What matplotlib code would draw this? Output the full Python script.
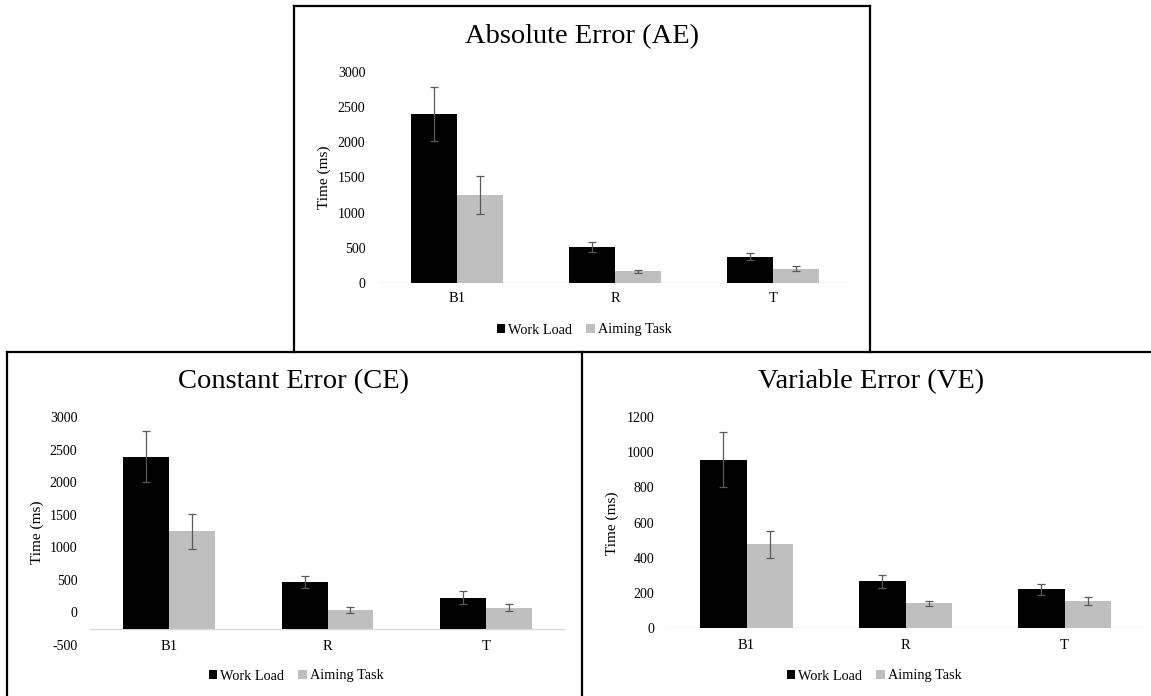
import matplotlib
matplotlib.use("Agg")
import matplotlib.pyplot as plt
from matplotlib.lines import Line2D
from matplotlib.patches import Patch
import numpy as np

plt.rcParams['font.family'] = ['Liberation Serif', 'DejaVu Serif']

categories = ['B1', 'R', 'T']
series_names = ['Work Load', 'Aiming Task']

ae_work = [2400, 515, 375]
ae_work_err = [385, 70, 55]
ae_aim = [1250, 165, 200]
ae_aim_err = [275, 25, 35]

ce_work = [2390, 468, 228]
ce_work_err = [390, 90, 95]
ce_aim = [1245, 40, 75]
ce_aim_err = [267, 48, 58]

ve_work = [958, 265, 220]
ve_work_err = [158, 37, 30]
ve_aim = [476, 140, 153]
ve_aim_err = [78, 14, 21]

W, H = 1151, 696
fig = plt.figure(figsize=(W / 100, H / 100), dpi=100)

BLACK = '#000000'
GRAY = '#BFBFBF'
ERR = '#595959'
AXIS = '#D9D9D9'


def fx(px):
    return px / W


def fy(py):
    return 1 - py / H


def panel(x0, x1, y_top, y_bot, ylim, yticks, base, work, werr, aim, aerr,
          title, title_xy, ylabel_xy, xpad, legend_xy):
    ax = fig.add_axes([fx(x0), fy(y_bot), fx(x1) - fx(x0), fy(y_top) - fy(y_bot)])
    x = np.arange(len(categories))
    bw = 0.29
    ax.bar(x - bw / 2, np.array(work) - base, bw, bottom=base, color=BLACK, zorder=2)
    ax.bar(x + bw / 2, np.array(aim) - base, bw, bottom=base, color=GRAY, zorder=2)
    ax.errorbar(x - bw / 2, work, yerr=werr, fmt='none', ecolor=ERR,
                elinewidth=0.9, capsize=3, capthick=0.9, zorder=3)
    ax.errorbar(x + bw / 2, aim, yerr=aerr, fmt='none', ecolor=ERR,
                elinewidth=0.9, capsize=3, capthick=0.9, zorder=3)
    ax.axhline(base, color=AXIS, lw=1.0, zorder=1)
    ax.set_xlim(-0.5, 2.5)
    ax.set_ylim(*ylim)
    ax.set_yticks(yticks)
    ax.set_yticklabels([str(v) for v in yticks])
    ax.set_xticks(x)
    ax.set_xticklabels(categories)
    for s in ax.spines.values():
        s.set_visible(False)
    ax.tick_params(axis='y', length=0, pad=9, labelsize=10)
    ax.tick_params(axis='x', length=0, pad=xpad, labelsize=10.5)
    ax.patch.set_alpha(0)
    fig.text(fx(title_xy[0]), fy(title_xy[1]), title, ha='center', va='center',
             fontsize=20.5)
    fig.text(fx(ylabel_xy[0]), fy(ylabel_xy[1]), 'Time (ms)', ha='center',
             va='center', rotation=90, fontsize=11)
    handles = [Patch(facecolor=BLACK, edgecolor='none'),
               Patch(facecolor=GRAY, edgecolor='none')]
    fig.legend(handles, series_names, loc='center',
               bbox_to_anchor=(fx(legend_xy[0]), fy(legend_xy[1])),
               ncol=2, frameon=False, fontsize=10.3, handlelength=0.6,
               handleheight=0.6, handletextpad=0.2, columnspacing=1.0,
               borderpad=0, borderaxespad=0)
    return ax


panel(378, 852, 72, 283, (0, 3000), [0, 500, 1000, 1500, 2000, 2500, 3000], 0,
      ae_work, ae_work_err, ae_aim, ae_aim_err,
      'Absolute Error (AE)', (582, 37), (324, 177), 6.5, (584, 330))

panel(90, 565, 417, 645, (-500, 3000),
      [-500, 0, 500, 1000, 1500, 2000, 2500, 3000], -250,
      ce_work, ce_work_err, ce_aim, ce_aim_err,
      'Constant Error (CE)', (294, 382), (37, 532), -3.6, (296, 676))

panel(667, 1144, 417, 628, (0, 1200), [0, 200, 400, 600, 800, 1000, 1200], 0,
      ve_work, ve_work_err, ve_aim, ve_aim_err,
      'Variable Error (VE)', (871, 382), (612, 523), 8, (874, 676))


def seg(xa, ya, xb, yb, lw=1.6):
    fig.add_artist(Line2D([fx(xa), fx(xb)], [fy(ya), fy(yb)], color='black',
                          lw=lw, solid_capstyle='projecting'))


# top panel frame
seg(294, 6, 870, 6)
seg(294, 6, 294, 352)
seg(870, 6, 870, 352)
# bottom panels frame
seg(7, 352, 1151, 352)
seg(7, 352, 7, 696)
seg(582, 352, 582, 696)

fig.savefig('out.png', dpi=100)
